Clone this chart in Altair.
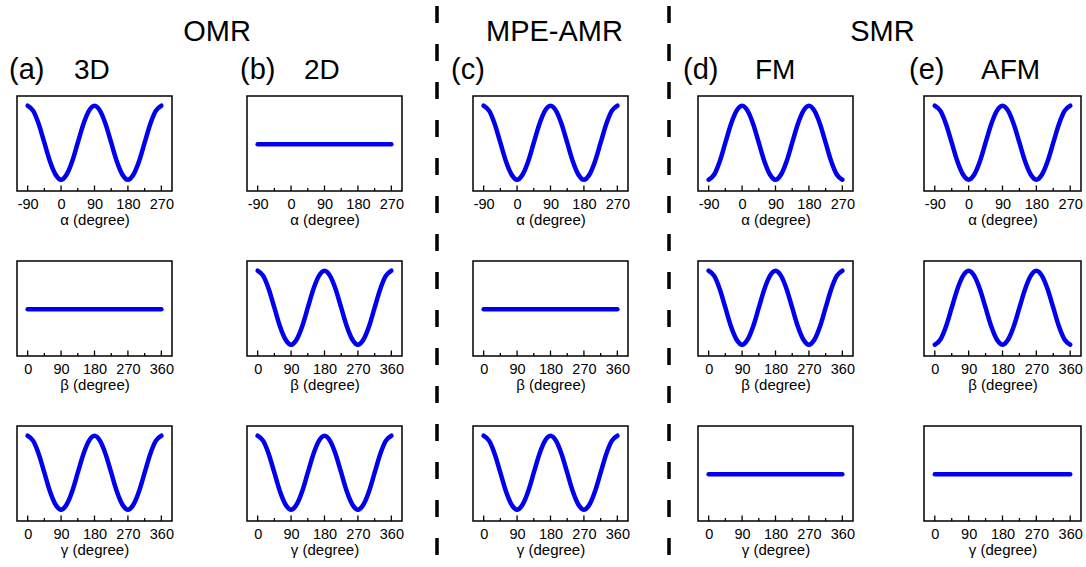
import altair as alt
import pandas as pd

# ---- data ----
deg_alpha = [-90, -75, -60, -45, -30, -15, 0, 15, 30, 45, 60, 75, 90,
             105, 120, 135, 150, 165, 180, 195, 210, 225, 240, 255, 270]
deg_360 = [0, 15, 30, 45, 60, 75, 90, 105, 120, 135, 150, 165, 180,
           195, 210, 225, 240, 255, 270, 285, 300, 315, 330, 345, 360]
# "W" shaped curve (high at the ends)
dip = [1.00, 0.93, 0.75, 0.50, 0.25, 0.07, 0.00, 0.07, 0.25, 0.50, 0.75, 0.93, 1.00,
       0.93, 0.75, 0.50, 0.25, 0.07, 0.00, 0.07, 0.25, 0.50, 0.75, 0.93, 1.00]
# "M" shaped curve (low at the ends)
peak = [0.00, 0.07, 0.25, 0.50, 0.75, 0.93, 1.00, 0.93, 0.75, 0.50, 0.25, 0.07, 0.00,
        0.07, 0.25, 0.50, 0.75, 0.93, 1.00, 0.93, 0.75, 0.50, 0.25, 0.07, 0.00]
flat = [0.48, 0.48, 0.48, 0.48, 0.48, 0.48, 0.48, 0.48, 0.48, 0.48, 0.48, 0.48, 0.48,
        0.48, 0.48, 0.48, 0.48, 0.48, 0.48, 0.48, 0.48, 0.48, 0.48, 0.48, 0.48]

alpha_major = [-90, 0, 90, 180, 270]
alpha_minor = [-45, 45, 135, 225]
deg_major = [0, 90, 180, 270, 360]
deg_minor = [45, 135, 225, 315]

axis_titles = ["α (degree)", "β (degree)", "γ (degree)"]
col_labels = ["(a)", "(b)", "(c)", "(d)", "(e)"]
col_sub = ["3D", "2D", "", "FM", "AFM"]
group_names = ["OMR", "MPE-AMR", "SMR"]

curves = {"dip": dip, "peak": peak, "flat": flat}
col_shapes = [
    ["dip", "flat", "dip"],
    ["flat", "dip", "dip"],
    ["dip", "flat", "dip"],
    ["peak", "dip", "flat"],
    ["dip", "peak", "flat"],
]

# ---- style / layout ----
FONT = "Liberation Sans"
H = 95
HEAD_H = 23          # header row height (texts overflow below it)
ROW_GAP = 70
BLUE = "#0000ee"
YDOM = [-0.153, 1.131]
col_w = [155, 155, 155, 155, 157]
label_dx = [-8, -7, -22, -15, -15]
group_of = {0: "OMR", 2: "MPE-AMR", 3: "SMR"}
group_dx = {0: 200, 2: 81.5, 3: 184.5}
# spacers between the five columns: (width, x of dashed line or None)
spacers = [(75, None), (71, 35), (70, 41), (71, None)]


def panel(row, shape, width):
    if row == 0:
        xs, dom, major, minor = deg_alpha, [-118.7, 298.7], alpha_major, alpha_minor
    else:
        xs, dom, major, minor = deg_360, [-28.7, 388.7], deg_major, deg_minor
    scale = alt.Scale(domain=dom, nice=False, zero=False)
    xenc = alt.X("x:Q", scale=scale,
                 axis=alt.Axis(values=major, title=axis_titles[row], ticks=False,
                               tickSize=0, domain=False, grid=False,
                               labelPadding=6, titlePadding=2,
                               labelExpr="'' + datum.value",
                               labelFlush=False, labelOverlap=False))
    df = pd.DataFrame({"x": xs, "y": curves[shape]})
    line = alt.Chart(df).mark_line(color=BLUE, strokeWidth=4.5, strokeCap="round",
                                   strokeJoin="round", interpolate="monotone").encode(
        x=xenc,
        y=alt.Y("y:Q", scale=alt.Scale(domain=YDOM, nice=False, zero=False), axis=None),
    )
    tmaj = alt.Chart(pd.DataFrame({"x": major})).mark_rule(color="black", strokeWidth=1.3).encode(
        x=xenc, y=alt.value(H), y2=alt.value(H - 5.5))
    tmin = alt.Chart(pd.DataFrame({"x": minor})).mark_rule(color="black", strokeWidth=1.3).encode(
        x=xenc, y=alt.value(H), y2=alt.value(H - 3))
    return alt.layer(line, tmaj, tmin).properties(
        width=width, height=H,
        view=alt.ViewBackground(stroke="black", strokeWidth=1.5))


def header(ci, width):
    layers = [
        alt.Chart(pd.DataFrame({"t": [col_labels[ci]]})).mark_text(
            font=FONT, fontSize=29, align="left", baseline="alphabetic", color="black").encode(
            text="t:N", x=alt.value(label_dx[ci]), y=alt.value(76))
    ]
    if col_sub[ci]:
        layers.append(alt.Chart(pd.DataFrame({"t": [col_sub[ci]]})).mark_text(
            font=FONT, fontSize=28, align="left", baseline="alphabetic", color="black").encode(
            text="t:N", x=alt.value(57), y=alt.value(76)))
    if ci in group_of:
        layers.append(alt.Chart(pd.DataFrame({"t": [group_of[ci]]})).mark_text(
            font=FONT, fontSize=29, align="center", baseline="alphabetic", color="black").encode(
            text="t:N", x=alt.value(group_dx[ci]), y=alt.value(37.5)))
    return alt.layer(*layers).properties(width=width, height=HEAD_H,
                                         view=alt.ViewBackground(stroke=None))


def spacer(width, height, dash_x=None):
    if dash_x is None:
        return alt.Chart(pd.DataFrame({"d": [0]})).mark_point(opacity=0).encode(
            x=alt.value(0), y=alt.value(0)).properties(
            width=width, height=height, view=alt.ViewBackground(stroke=None))
    # dashed separator drawn once, from the header row down to the bottom
    return alt.Chart(pd.DataFrame({"d": [0]})).mark_rule(
        color="black", strokeWidth=3.5, strokeDash=[17, 21]).encode(
        x=alt.value(dash_x), y=alt.value(3), y2=alt.value(567)).properties(
        width=width, height=height, view=alt.ViewBackground(stroke=None))


cells = []
# header row
for ci in range(5):
    cells.append(header(ci, col_w[ci]))
    if ci < 4:
        w, dx = spacers[ci]
        cells.append(spacer(w, HEAD_H, dx))
# panel rows
for r in range(3):
    for ci in range(5):
        cells.append(panel(r, col_shapes[ci][r], col_w[ci]))
        if ci < 4:
            cells.append(spacer(spacers[ci][0], H))

chart = alt.concat(*cells, columns=9, spacing={"row": ROW_GAP, "column": 0},
                   bounds="flush").properties(
    padding={"left": 9, "top": 0, "right": 0, "bottom": 0},
    background="white",
).configure_view(stroke=None).configure_axis(
    labelFont=FONT, labelFontSize=14.5, labelColor="black",
    titleFont=FONT, titleFontSize=15, titleFontWeight="normal", titleColor="black",
)

chart.save("out.html", embed_options={"renderer": "svg", "actions": False})
